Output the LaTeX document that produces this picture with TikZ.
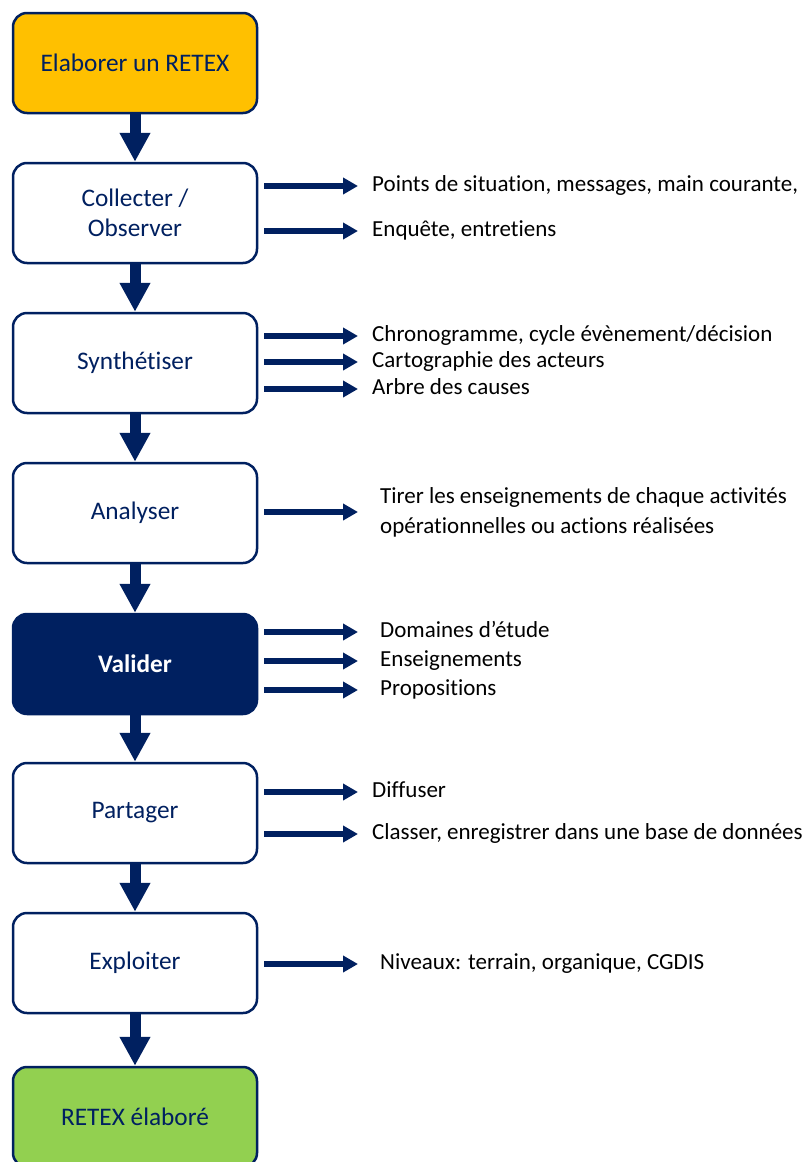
\documentclass[tikz,border=0pt]{standalone}
\usepackage{fontspec}
\setmainfont[Ligatures=NoCommon]{Carlito}
\usetikzlibrary{arrows.meta}
\definecolor{navy}{HTML}{002060}
\definecolor{boxyellow}{HTML}{FFC000}
\definecolor{boxgreen}{HTML}{92D050}
\begin{document}
\begin{tikzpicture}[x=1pt,y=-1pt,
  box/.style={draw=navy, line width=2.5pt, rounded corners=14pt, minimum width=244pt, minimum height=100pt, fill=white, text=navy, font=\fontsize{25.3}{30}\selectfont, align=center, inner sep=0pt},
  note/.style={anchor=west, inner sep=0pt, font=\fontsize{23}{27}\selectfont, text height=16pt, text depth=5pt},
  notetwo/.style={anchor=west, inner sep=0pt, font=\fontsize{23}{30}\selectfont, align=left},
  down/.style={draw=navy, line width=11pt, -{Triangle[width=29pt,length=29pt]}},
  side/.style={draw=navy, line width=6.5pt, -{Triangle[width=16pt,length=15pt]}, shorten <=6pt}]
\useasboundingbox (0,0) rectangle (811,1162);
\fill[white] (0,0) rectangle (811,1162);

\node[box, fill=boxyellow] (b1) at (135,63) {Elaborer un RETEX};
\node[box] (b2) at (135,213) {Collecter /\\Observer};
\node[box] (b3) at (135,363) {Synthétiser};
\node[box] (b4) at (135,513) {Analyser};
\node[box, fill=navy, text=white, font=\fontsize{25.3}{30}\selectfont\bfseries] (b5) at (135,664) {Valider};
\node[box] (b6) at (135,813) {Partager};
\node[box] (b7) at (135,963) {Exploiter};
\node[box, fill=boxgreen] (b8) at (135,1117) {RETEX élaboré};

\draw[down] (b1) -- (b2);
\draw[down] (b2) -- (b3);
\draw[down] (b3) -- (b4);
\draw[down] (b4) -- (b5);
\draw[down] (b5) -- (b6);
\draw[down] (b6) -- (b7);
\draw[down] (b7) -- (b8);

% Collecter
\node[note] (n21) at (372,186) {Points de situation, messages, main courante,};
\node[note] (n22) at (372,231) {Enquête, entretiens};
\draw[side, shorten >=14pt] (b2.east |- n21.west) -- (n21.west);
\draw[side, shorten >=14pt] (b2.east |- n22.west) -- (n22.west);

% Synthetiser
\node[note] (n31) at (372,336) {Chronogramme, cycle évènement/décision};
\node[note] (n32) at (372,362) {Cartographie des acteurs};
\node[note] (n33) at (372,389) {Arbre des causes};
\draw[side, shorten >=14pt] (b3.east |- n31.west) -- (n31.west);
\draw[side, shorten >=14pt] (b3.east |- n32.west) -- (n32.west);
\draw[side, shorten >=14pt] (b3.east |- n33.west) -- (n33.west);

% Analyser
\node[notetwo] (n41) at (380,512) {Tirer les enseignements de chaque activités\\opérationnelles ou actions réalisées};
\draw[side, shorten >=22pt] (b4.east |- n41.west) -- (n41.west);

% Valider
\node[note] (n51) at (380,632) {Domaines d’étude};
\node[note] (n52) at (380,661) {Enseignements};
\node[note] (n53) at (380,690) {Propositions};
\draw[side, shorten >=22pt] (b5.east |- n51.west) -- (n51.west);
\draw[side, shorten >=22pt] (b5.east |- n52.west) -- (n52.west);
\draw[side, shorten >=22pt] (b5.east |- n53.west) -- (n53.west);

% Partager
\node[note] (n61) at (372,792) {Diffuser};
\node[note] (n62) at (372,834) {Classer, enregistrer dans une base de données};
\draw[side, shorten >=14pt] (b6.east |- n61.west) -- (n61.west);
\draw[side, shorten >=14pt] (b6.east |- n62.west) -- (n62.west);

% Exploiter
\node[note] (n71) at (380,964) {Niveaux: terrain, organique, CGDIS};
\draw[side, shorten >=22pt] (b7.east |- n71.west) -- (n71.west);
\end{tikzpicture}
\end{document}
